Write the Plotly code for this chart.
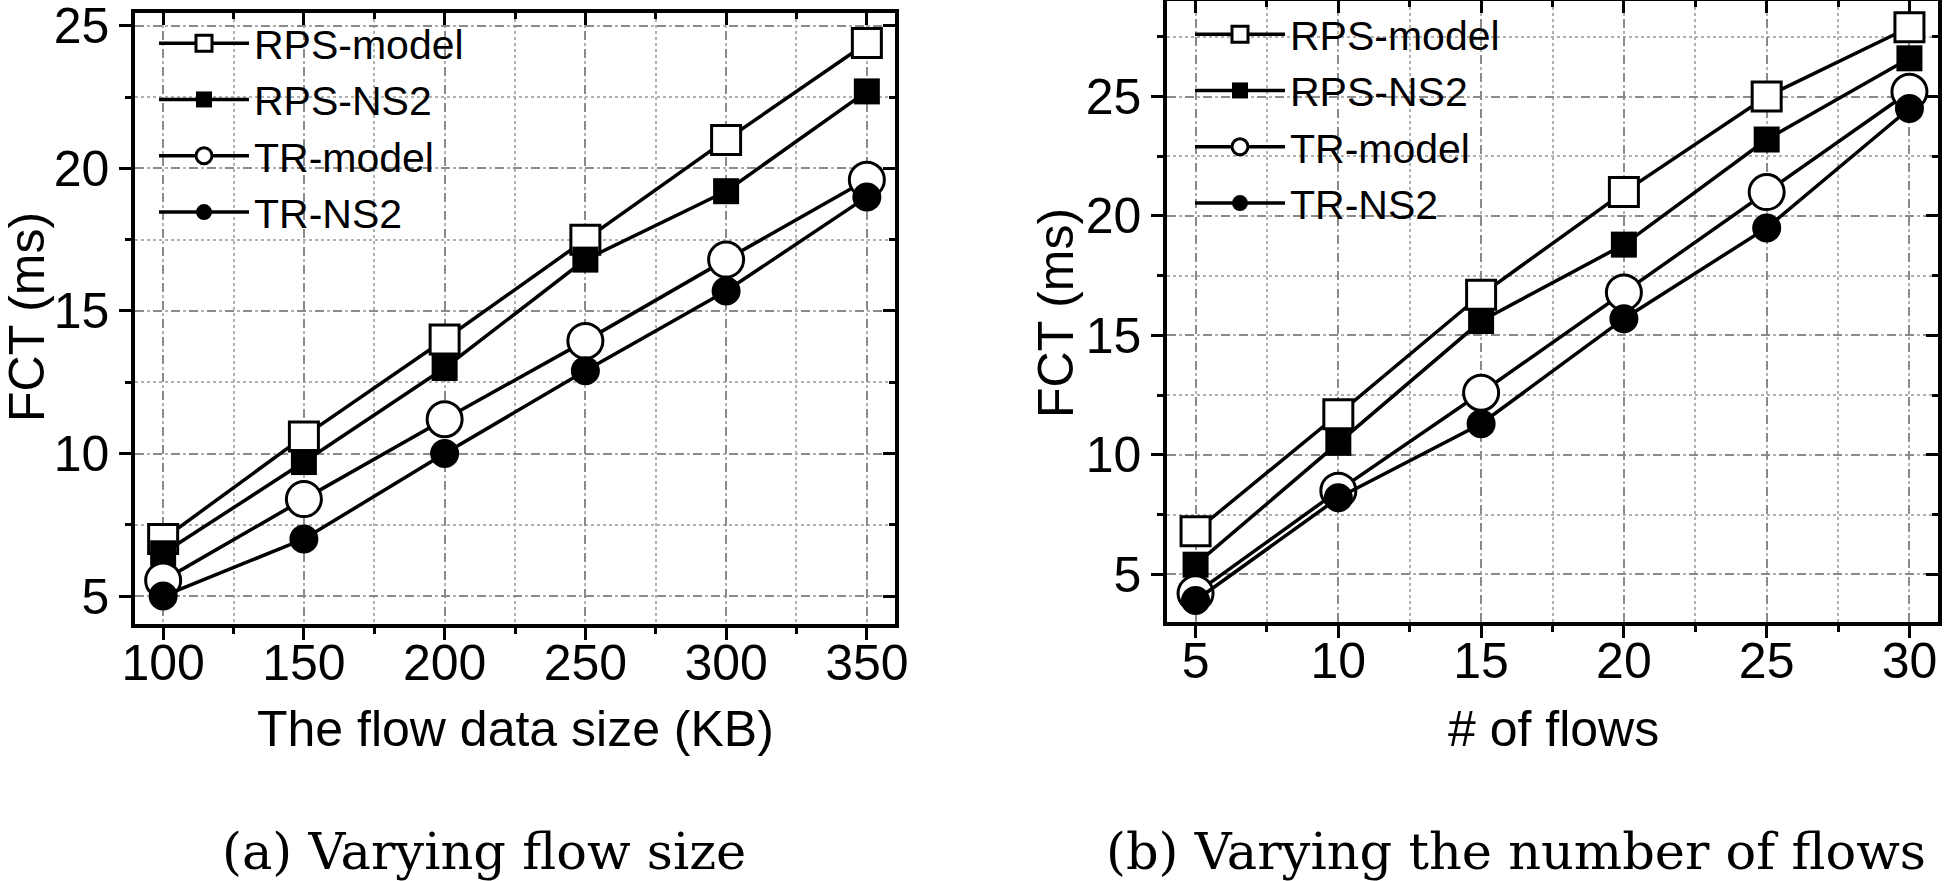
import plotly.graph_objects as go

# ---------------- data ----------------
flow_size_kb = [100, 150, 200, 250, 300, 350]
a_rps_model = [7.0, 10.6, 14.0, 17.5, 21.0, 24.4]
a_rps_ns2 = [6.5, 9.7, 13.0, 16.8, 19.2, 22.7]
a_tr_model = [5.55, 8.4, 11.2, 13.95, 16.8, 19.6]
a_tr_ns2 = [5.0, 7.0, 10.0, 12.9, 15.7, 19.0]

num_flows = [5, 10, 15, 20, 25, 30]
b_rps_model = [6.8, 11.7, 16.7, 21.0, 25.0, 27.9]
b_rps_ns2 = [5.4, 10.5, 15.6, 18.8, 23.2, 26.6]
b_tr_model = [4.2, 8.5, 12.6, 16.8, 21.0, 25.2]
b_tr_ns2 = [3.9, 8.2, 11.3, 15.7, 19.5, 24.5]

series_names = ["RPS-model", "RPS-NS2", "TR-model", "TR-NS2"]
a_xticks = [100, 150, 200, 250, 300, 350]
b_xticks = [5, 10, 15, 20, 25, 30]
y_ticks = [5, 10, 15, 20, 25]

# ---------------- styles ----------------
W, H = 1946, 881
FONT = "Liberation Sans, Arial, sans-serif"
SERIF = "DejaVu Serif, Liberation Serif, serif"
styles = [
    dict(symbol="square", size=29, color="white", line=dict(color="black", width=3)),
    dict(symbol="square", size=26, color="black", line=dict(color="black", width=0)),
    dict(symbol="circle", size=35, color="white", line=dict(color="black", width=3)),
    dict(symbol="circle", size=29, color="black", line=dict(color="black", width=0)),
]

fig = go.Figure()

def add_panel(xs, ys_list, xa, ya, legend):
    for name, ys, st in zip(series_names, ys_list, styles):
        fig.add_trace(go.Scatter(
            x=xs, y=ys, name=name, mode="lines+markers",
            line=dict(color="black", width=3.5),
            marker=st, xaxis=xa, yaxis=ya, legend=legend,
            cliponaxis=False,
        ))

add_panel(flow_size_kb, [a_rps_model, a_rps_ns2, a_tr_model, a_tr_ns2], "x", "y", "legend")
add_panel(num_flows, [b_rps_model, b_rps_ns2, b_tr_model, b_tr_ns2], "x2", "y2", "legend2")

# empty traces so overlay (mirror) axes get drawn
for xa, ya in [("x3", "y"), ("x", "y3"), ("x4", "y2"), ("x2", "y4")]:
    fig.add_trace(go.Scatter(x=[None], y=[None], xaxis=xa, yaxis=ya, showlegend=False,
                             hoverinfo="skip"))

grid_major = dict(showgrid=True, gridcolor="#8a8a8a", griddash="dash", gridwidth=1.6)

def main_axis(domain, rng, tickvals, minor_dtick, anchor, standoff):
    return dict(
        domain=domain, range=rng, anchor=anchor, automargin=False,
        tickmode="array", tickvals=tickvals,
        ticks="outside", ticklen=12, tickwidth=3, tickcolor="black",
        showline=True, linecolor="black", linewidth=3.5,
        zeroline=False, ticklabeloverflow="allow", ticklabelstandoff=standoff,
        tickfont=dict(family=FONT, size=50, color="black"),
        minor=dict(dtick=minor_dtick, tick0=tickvals[0], ticks="outside", ticklen=6,
                   tickwidth=3, tickcolor="black", showgrid=True,
                   gridcolor="#b0b0b0", griddash="dot", gridwidth=1.6),
        **grid_major,
    )

def mirror_axis(rng, tickvals, minor_dtick, overlay, anchor, side):
    return dict(
        range=rng, overlaying=overlay, anchor=anchor, side=side, automargin=False,
        tickmode="array", tickvals=tickvals,
        ticks="inside", ticklen=12, tickwidth=3, tickcolor="black",
        showticklabels=False, showline=True, linecolor="black", linewidth=3.5,
        showgrid=False, zeroline=False,
        minor=dict(dtick=minor_dtick, tick0=tickvals[0], ticks="inside", ticklen=6,
                   tickwidth=3, tickcolor="black", showgrid=False),
    )

a_xr = [90, 360]
a_yr = [4.02, 25.45]
b_xr = [4.0, 31.0]
b_yr = [3.0, 29.0]

a_xd = [135 / W, 895 / W]
a_yd = [1 - 624 / H, 1 - 13 / H]
b_xd = [1167 / W, 1938 / W]
b_yd = [1 - 622 / H, 1 - 1 / H]

legend_common = dict(
    bgcolor="rgba(0,0,0,0)", borderwidth=0,
    font=dict(family=FONT, size=41, color="black"),
    xanchor="left", yanchor="top", tracegroupgap=0, itemwidth=90,
)

fig.update_layout(
    width=W, height=H,
    margin=dict(l=0, r=0, t=0, b=0, autoexpand=False),
    paper_bgcolor="white", plot_bgcolor="white",
    showlegend=True,
    xaxis=main_axis(a_xd, a_xr, a_xticks, 25, "y", -20),
    yaxis=main_axis(a_yd, a_yr, y_ticks, 2.5, "x", 0),
    xaxis2=main_axis(b_xd, b_xr, b_xticks, 2.5, "y2", -20),
    yaxis2=main_axis(b_yd, b_yr, y_ticks, 2.5, "x2", 0),
    xaxis3=mirror_axis(a_xr, a_xticks, 25, "x", "y", "top"),
    yaxis3=mirror_axis(a_yr, y_ticks, 2.5, "y", "x", "right"),
    xaxis4=mirror_axis(b_xr, b_xticks, 2.5, "x2", "y2", "top"),
    yaxis4=mirror_axis(b_yr, y_ticks, 2.5, "y2", "x2", "right"),
    legend=dict(x=154 / W, y=1 - 10 / H, **legend_common),
    legend2=dict(x=1190 / W, y=1 - 1 / H, **legend_common),
)

ann_font = dict(family=FONT, size=50, color="black")
cap_font = dict(family=SERIF, size=51, color="black")
fig.add_annotation(text="The flow data size (KB)", x=515 / W, y=1 - 729 / H, xref="paper", yref="paper",
                   xanchor="center", yanchor="middle", showarrow=False, font=ann_font)
fig.add_annotation(text="# of flows", x=1553 / W, y=1 - 729 / H, xref="paper", yref="paper",
                   xanchor="center", yanchor="middle", showarrow=False, font=ann_font)
fig.add_annotation(text="FCT (ms)", x=27 / W, y=1 - 317 / H, xref="paper", yref="paper",
                   xanchor="center", yanchor="middle", showarrow=False, font=ann_font, textangle=-90)
fig.add_annotation(text="FCT (ms)", x=1056 / W, y=1 - 313 / H, xref="paper", yref="paper",
                   xanchor="center", yanchor="middle", showarrow=False, font=ann_font, textangle=-90)
fig.add_annotation(text="(a) Varying flow size", x=484 / W, y=1 - 851 / H, xref="paper", yref="paper",
                   xanchor="center", yanchor="middle", showarrow=False, font=cap_font)
fig.add_annotation(text="(b) Varying the number of flows", x=1516 / W, y=1 - 851 / H, xref="paper",
                   yref="paper", xanchor="center", yanchor="middle", showarrow=False, font=cap_font)

fig.write_html("out.html", config={"displayModeBar": False},
               post_script="document.body.style.margin='0px';document.body.style.overflow='hidden';")
